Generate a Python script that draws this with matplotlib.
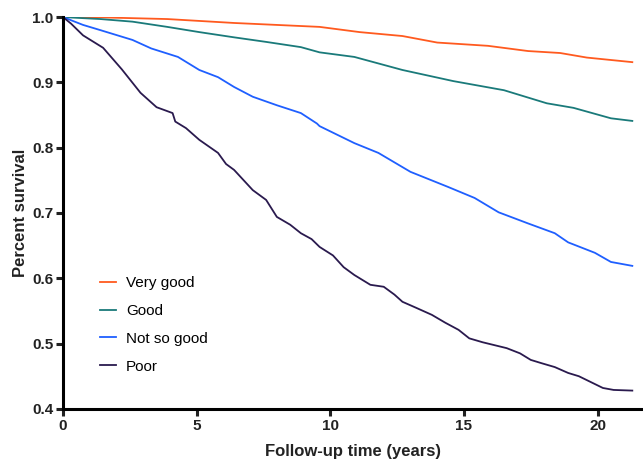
import matplotlib
matplotlib.use("Agg")
from matplotlib import pyplot as plt

plt.rcParams['font.family'] = ['Liberation Sans', 'DejaVu Sans']

##################################################
# Survival curves

labels = ["Very good", "Good", "Not so good", "Poor"]
colors = ["#ff5a1f", "#1a7a7a", "#1f5fff", "#2a1a4e"]

very_good_t = [0, 1.0, 3.9, 6.4, 9.6, 11.1, 12.7, 14.0, 15.9, 17.4, 18.6, 19.6, 21.3]
very_good_s = [1.0, 1.0, 0.997, 0.991, 0.985, 0.977, 0.971, 0.961, 0.956, 0.948, 0.945, 0.938, 0.931]

good_t = [0, 1.4, 2.6, 3.9, 5.1, 6.4, 7.6, 8.9, 9.6, 10.9, 12.7, 14.6, 16.5, 18.1, 19.1, 20.5, 21.3]
good_s = [1.0, 0.997, 0.993, 0.985, 0.977, 0.969, 0.962, 0.954, 0.946, 0.939, 0.919, 0.902, 0.888, 0.868, 0.861, 0.845, 0.841]

not_so_good_t = [0, 0.75, 1.4, 2.6, 3.3, 4.3, 5.1, 5.8, 6.4, 7.1, 8.0, 8.9, 9.5, 9.6, 10.9,
                 11.8, 13.0, 14.4, 15.4, 16.3, 17.4, 18.4, 18.9, 19.9, 20.5, 21.3]
not_so_good_s = [1.0, 0.988, 0.980, 0.965, 0.952, 0.939, 0.919, 0.908, 0.893, 0.878, 0.865, 0.853, 0.837,
                 0.833, 0.807, 0.792, 0.763, 0.740, 0.723, 0.701, 0.684, 0.669, 0.655, 0.639, 0.625, 0.619]

poor_t = [0, 0.3, 0.75, 1.5, 2.2, 2.9, 3.5, 4.1, 4.2, 4.6, 5.1, 5.8, 6.1, 6.4, 7.1, 7.6, 8.0,
          8.5, 8.9, 9.3, 9.6, 10.1, 10.5, 10.9, 11.5, 12.0, 12.4, 12.7, 13.2, 13.8, 14.3, 14.8,
          15.2, 15.7, 16.1, 16.6, 17.1, 17.5, 17.9, 18.4, 18.9, 19.3, 19.6, 20.2, 20.6, 21.3]
poor_s = [1.0, 0.99, 0.972, 0.953, 0.92, 0.884, 0.862, 0.853, 0.84, 0.83, 0.812, 0.792, 0.775,
          0.766, 0.735, 0.72, 0.694, 0.682, 0.669, 0.66, 0.648, 0.635, 0.617, 0.605, 0.59, 0.587,
          0.575, 0.564, 0.555, 0.544, 0.532, 0.521, 0.508, 0.502, 0.498, 0.493, 0.485, 0.475,
          0.47, 0.464, 0.455, 0.45, 0.444, 0.432, 0.429, 0.428]

series = [(very_good_t, very_good_s), (good_t, good_s),
          (not_so_good_t, not_so_good_s), (poor_t, poor_s)]

##################################################
# Plot

fig = plt.figure(figsize=(6.43, 4.62), dpi=100)
ax = fig.add_axes([0.098, 0.115, 0.902, 0.848])

for (t, s), lab, c in zip(series, labels, colors):
    ax.plot(t, s, color=c, lw=1.3, label=lab)

ax.set_xlim(0, 21.7)
ax.set_ylim(0.4, 1.0)
ax.set_xticks([0, 5, 10, 15, 20])
ax.set_yticks([0.4, 0.5, 0.6, 0.7, 0.8, 0.9, 1.0])
ax.set_yticklabels(["0.4", "0.5", "0.6", "0.7", "0.8", "0.9", "1.0"])

for side in ["top", "right"]:
    ax.spines[side].set_visible(False)
for side in ["left", "bottom"]:
    ax.spines[side].set_linewidth(2.2)
ax.tick_params(width=2.2, length=5, pad=2, labelsize=11, colors="#222222")
for lbl in ax.get_xticklabels() + ax.get_yticklabels():
    lbl.set_fontweight("bold")

ax.set_xlabel("Follow-up time (years)", fontsize=12, fontweight="bold", color="#222222", labelpad=8)
ax.set_ylabel("Percent survival", fontsize=12, fontweight="bold", color="#222222", labelpad=3)

ax.legend(loc="lower left", bbox_to_anchor=(0.04, 0.055), frameon=False, fontsize=11,
          handlelength=1.05, labelspacing=0.9, handletextpad=0.65)

fig.savefig("out.png", dpi=100)
